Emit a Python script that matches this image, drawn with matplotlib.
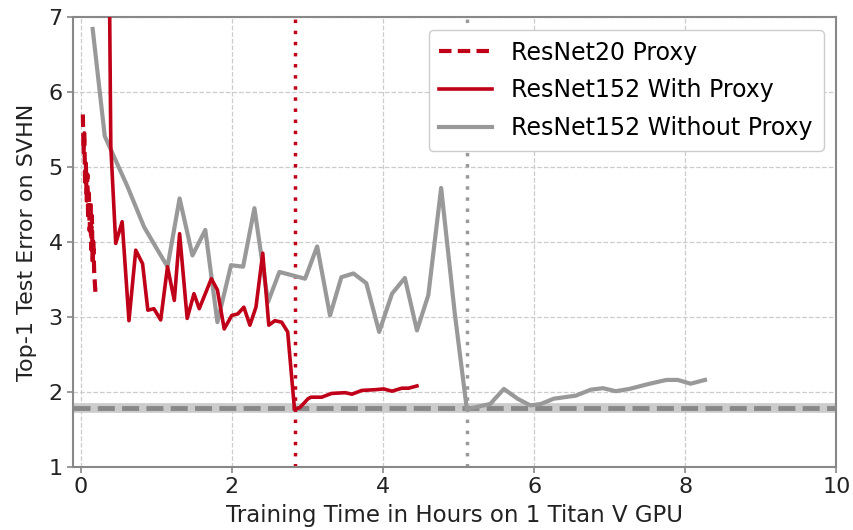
import matplotlib.pyplot as plt

# ResNet20 proxy run (short, noisy)
proxy_t = [0.03, 0.04, 0.05, 0.06, 0.07, 0.08, 0.09, 0.10, 0.11, 0.12, 0.13, 0.14, 0.15, 0.16, 0.17, 0.18, 0.20]
proxy_err = [5.70, 5.20, 5.45, 4.75, 5.05, 4.55, 4.90, 4.30, 4.65, 4.15, 4.55, 3.90, 4.35, 3.70, 4.00, 3.60, 3.27]

# ResNet152 initialised from proxy
with_t = [0.38, 0.40, 0.465, 0.55, 0.64, 0.73, 0.82, 0.89, 0.97, 1.06, 1.15, 1.24, 1.31, 1.41, 1.50, 1.57,
          1.73, 1.81, 1.90, 2.00, 2.08, 2.16, 2.24, 2.32, 2.41, 2.49, 2.57, 2.66, 2.74, 2.80, 2.83, 2.90,
          3.01, 3.05, 3.19, 3.32, 3.50, 3.59, 3.72, 3.90, 4.01, 4.12, 4.25, 4.34, 4.45]
with_err = [7.60, 5.27, 3.98, 4.27, 2.95, 3.89, 3.71, 3.09, 3.11, 2.96, 3.67, 3.22, 4.11, 2.98, 3.31, 3.11,
            3.51, 3.36, 2.84, 3.02, 3.04, 3.13, 2.89, 3.13, 3.85, 2.89, 2.95, 2.93, 2.80, 2.11, 1.77, 1.79,
            1.91, 1.93, 1.93, 1.98, 1.99, 1.97, 2.02, 2.03, 2.04, 2.01, 2.05, 2.05, 2.08]

# ResNet152 trained from scratch
without_t = [0.16, 0.32, 0.62, 0.84, 1.02, 1.15, 1.31, 1.48, 1.65, 1.81, 1.99, 2.15, 2.30, 2.48, 2.63,
             2.97, 3.13, 3.30, 3.45, 3.61, 3.78, 3.95, 4.12, 4.29, 4.45, 4.60, 4.77, 4.95, 5.11, 5.42,
             5.60, 5.78, 5.95, 6.09, 6.26, 6.55, 6.75, 6.91, 7.08, 7.26, 7.53, 7.75, 7.90, 8.07, 8.26]
without_err = [6.84, 5.41, 4.74, 4.20, 3.89, 3.67, 4.58, 3.82, 4.16, 2.93, 3.69, 3.67, 4.45, 3.20, 3.60,
               3.51, 3.94, 3.02, 3.53, 3.58, 3.45, 2.80, 3.31, 3.52, 2.82, 3.29, 4.72, 3.05, 1.77, 1.84,
               2.04, 1.91, 1.82, 1.84, 1.91, 1.95, 2.03, 2.05, 2.01, 2.04, 2.11, 2.16, 2.16, 2.11, 2.16]

best_err = 1.78
with_done = 2.83
without_done = 5.11

red = '#c00018'
grey = '#999999'

plt.rcParams['font.family'] = 'DejaVu Sans'
fig = plt.figure(figsize=(8.54, 5.30), dpi=100)
ax = fig.add_axes([0.0855, 0.119, 0.894, 0.849])

ax.axhline(best_err, color='#cccccc', lw=7, zorder=1)
ax.axhline(best_err, color='#888888', lw=3.5, ls=(0, (3.5, 1.5)), zorder=2)
ax.axvline(with_done, color=red, lw=2.5, ls=(0, (1, 2.2)), zorder=2)
ax.axvline(without_done, color='#999999', lw=2.5, ls=(0, (1, 2.2)), zorder=2)

ax.plot(proxy_t, proxy_err, color=red, lw=3, ls=(0, (3, 1.5)), label='ResNet20 Proxy', zorder=4)
ax.plot(with_t, with_err, color=red, lw=2.6, label='ResNet152 With Proxy', zorder=4)
ax.plot(without_t, without_err, color=grey, lw=3, label='ResNet152 Without Proxy', zorder=3)

ax.set_xlim(-0.1, 10)
ax.set_ylim(1, 7)
ax.set_xticks([0, 2, 4, 6, 8, 10])
ax.set_yticks([1, 2, 3, 4, 5, 6, 7])
ax.grid(True, ls='--', color='#cccccc', lw=0.9)
ax.set_axisbelow(True)
for s in ax.spines.values():
    s.set_color('#888888')
    s.set_linewidth(1.5)
ax.tick_params(labelsize=16, color='#888888', length=4, width=1.2, labelcolor='#222222')

ax.set_xlabel('Training Time in Hours on 1 Titan V GPU', fontsize=16.5, color='#222222', labelpad=5)
ax.set_ylabel('Top-1 Test Error on SVHN', fontsize=16, color='#222222', labelpad=8)

leg = ax.legend(loc='upper right', fontsize=17, handlelength=2.25, handletextpad=0.8, borderpad=0.45,
                labelspacing=0.58, framealpha=1.0, edgecolor='#cccccc', borderaxespad=0.55)

fig.savefig('out.png', dpi=100)
